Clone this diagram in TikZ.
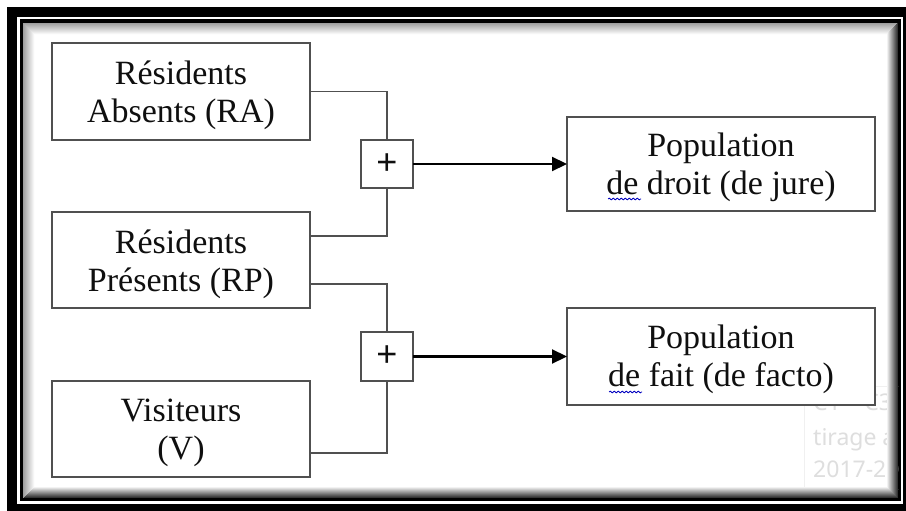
\documentclass[tikz,border=0pt]{standalone}
\usepackage{fontspec}
\setmainfont{Liberation Serif}
\newfontfamily\plusfont{Liberation Sans}
\newfontfamily\wmfont{Noto Sans}
\usetikzlibrary{arrows.meta,decorations.pathmorphing}
\definecolor{linegray}{RGB}{80,80,80}
\definecolor{txt}{RGB}{15,15,15}
\definecolor{wm}{RGB}{222,222,222}
\begin{document}
\begin{tikzpicture}[x=1pt,y=1pt,
  box/.style={draw=linegray,line width=1.8pt,fill=white,inner sep=0pt,outer sep=0pt},
  label/.style={align=center,text=txt,inner sep=0pt,font=\fontsize{34}{38}\selectfont},
  pbox/.style={draw=linegray,line width=1.8pt,fill=white,inner sep=0pt,outer sep=0pt,
    minimum width=52pt,text=txt,font=\plusfont\fontsize{36}{36}\selectfont},
  link/.style={linegray,line width=1.8pt},
  arr/.style={black,line width=2.2pt,-{Triangle[length=15pt,width=14pt]}},
  wavy/.style={blue!75!black,line width=0.8pt,decorate,
    decoration={snake,amplitude=0.9pt,segment length=4pt}},
  wmtext/.style={anchor=base west,text=wm,inner sep=0pt,font=\wmfont\fontsize{23}{23}\selectfont}
]
\useasboundingbox (0,0) rectangle (906,-511);
% frame
\fill[white] (0,0) rectangle (906,-511);
\fill[black] (7,-7) rectangle (906,-511);
\fill[white] (17,-17) rectangle (903,-504);
\fill[black] (19.5,-19.5) rectangle (901,-501);
\fill[white] (23,-23) rectangle (898,-498);
% watermark
\begin{scope}
\clip (23,-23) rectangle (898,-498);
\draw[black!6,line width=0.8pt] (804,-386) rectangle (930,-489);
\node[wmtext] (w1) at (813,-410) {C1 – C3};
\node[wmtext] (w2) at (813,-445) {tirage a};
\node[wmtext] (w3) at (813,-477) {2017-20};
\end{scope}
% inner shadow
\foreach \i [evaluate=\i as \c using {max(38-3.4*\i,0)}] in {0,...,11}{
  \draw[line width=1.05pt,black!\c] (23.5+\i,-497.5+\i) -- (23.5+\i,-23.5-\i) -- (897.5-\i,-23.5-\i);
}
\foreach \i [evaluate=\i as \c using {max(80-7.5*\i,0)}] in {0,...,10}{
  \draw[line width=1.05pt,black!\c] (23.5+\i,-497.5+\i) -- (897.5-\i,-497.5+\i) -- (897.5-\i,-23.5-\i);
}
% boxes
\node[box,minimum width=258pt,minimum height=97pt] (RA) at (181,-91.5) {};
\node[box,minimum width=258pt,minimum height=96pt] (RP) at (181,-260) {};
\node[box,minimum width=258pt,minimum height=96pt] (V) at (181,-429) {};
\node[box,minimum width=308pt,minimum height=94pt] (PD) at (721,-164) {};
\node[box,minimum width=308pt,minimum height=97pt] (PF) at (721,-356.5) {};
\node[label] (RAt) at ([yshift=-4pt]RA.center) {Résidents\\Absents (RA)};
\node[label] (RPt) at ([yshift=-4pt]RP.center) {Résidents\\Présents (RP)};
\node[label] (Vt) at ([yshift=-4pt]V.center) {Visiteurs\\(V)};
\node[label] (PDt) at ([yshift=-3pt]PD.center) {Population\\de droit (de jure)};
\node[label] (PFt) at ([yshift=-3pt]PF.center) {Population\\de fait (de facto)};
\node[pbox,minimum height=48pt] (P1) at (387,-164) {+};
\node[pbox,minimum height=49pt] (P2) at (387,-356.5) {+};
% connectors
\draw[link] (RA.east) -| (P1.north);
\draw[link] ([yshift=24pt]RP.east) -| (P1.south);
\draw[link] ([yshift=-24pt]RP.east) -| (P2.north);
\draw[link] ([yshift=-24pt]V.east) -| (P2.south);
\draw[arr] (P1.east) -- (PD.west);
\draw[arr] (P2.east) -- (PF.west);
% spell-check underlines
\draw[wavy] (608,-199) -- (641,-199);
\draw[wavy] (609,-392) -- (642,-392);
\end{tikzpicture}
\end{document}
